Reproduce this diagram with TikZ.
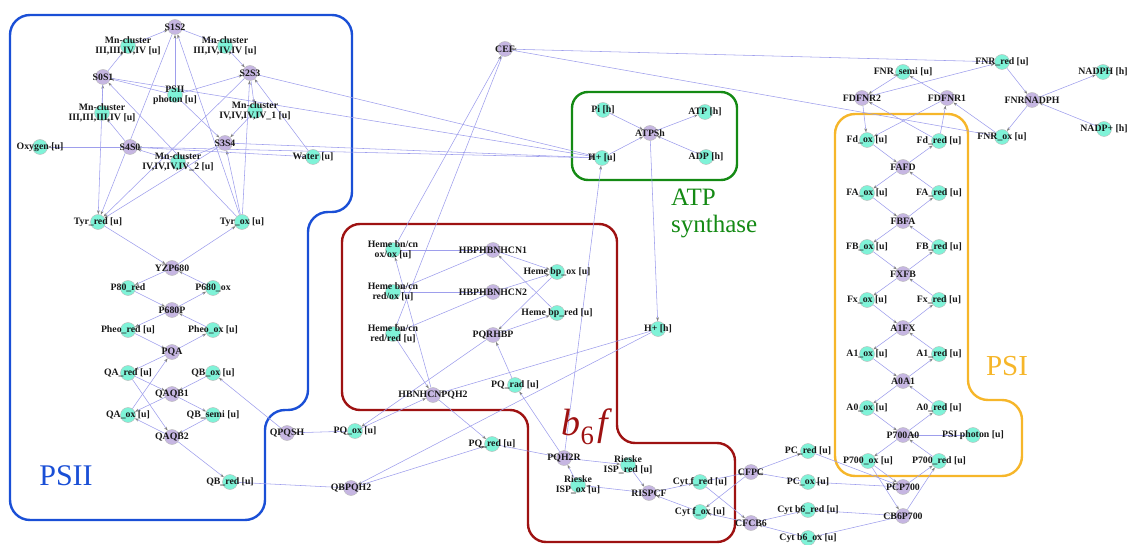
\documentclass[tikz,border=0pt]{standalone}
\usepackage{fontspec}
\setmainfont{Liberation Serif}
\usetikzlibrary{arrows.meta}
\pgfdeclarelayer{bg}
\pgfsetlayers{bg,main}
\definecolor{placecol}{HTML}{7FF3D8}
\definecolor{transcol}{HTML}{C6B6E2}
\definecolor{arccol}{HTML}{9E9EEC}
\definecolor{psiiblue}{HTML}{1A4FD6}
\definecolor{bsixred}{HTML}{9E1212}
\definecolor{atpgreen}{HTML}{148A14}
\definecolor{psiorange}{HTML}{F6B62A}
\newcommand\mkP[3]{\node[place] (#1) at (#2) {}; \node[lbl] (#1t) at (#1) {#3};}
\newcommand\mkT[3]{\node[trans] (#1) at (#2) {}; \node[lbl] (#1t) at (#1) {#3};}
\begin{document}
\begin{tikzpicture}[x=1pt,y=-1pt,
  place/.style={circle,fill=placecol,draw=gray!55,line width=0.4pt,minimum size=15pt,inner sep=0pt},
  trans/.style={circle,fill=transcol,draw=gray!55,line width=0.4pt,minimum size=15pt,inner sep=0pt},
  lbl/.style={font=\bfseries\fontsize{9.8}{10}\selectfont,text=black!90,align=center,inner sep=0pt},
  arc/.style={draw=arccol,line width=0.55pt,-{Stealth[length=4pt,width=2.8pt,color=gray]}},
  box/.style={line width=2.4pt,rounded corners=20pt},
  big/.style={inner sep=0pt,align=left}
]
\useasboundingbox (0,0) rectangle (1129,545);

% ---------- PSII ----------
\mkT{sb}{175,27}{S1S2}
\mkP{MnA}{128,46}{Mn-cluster\\III,III,IV,IV [u]}
\mkP{MnB}{225,46}{Mn-cluster\\III,IV,IV,IV [u]}
\mkT{sa}{103,77}{S0S1}
\mkT{sc}{250,73}{S2S3}
\mkP{ph2}{175,95}{PSII\\photon [u]}
\mkP{MnZ}{102,113}{Mn-cluster\\III,III,III,IV [u]}
\mkP{MnC}{255,111}{Mn-cluster\\IV,IV,IV,IV\_1 [u]}
\mkP{oxy}{40,147}{Oxygen [u]}
\mkT{se}{130,147}{S4S0}
\mkT{sd}{225,143}{S3S4}
\mkP{MnD}{178,162}{Mn-cluster\\IV,IV,IV,IV\_2 [u]}
\mkP{water}{313,157}{Water [u]}
\mkP{tyrr}{98,222}{Tyr\_red [u]}
\mkP{tyro}{242,222}{Tyr\_ox [u]}
\mkT{yz}{172,268}{YZP680}
\mkP{p680r}{128,288}{P80\_red}
\mkP{p680o}{213,288}{P680\_ox}
\mkT{p680p}{172,310}{P680P}
\mkP{pheor}{128,330}{Pheo\_red [u]}
\mkP{pheoo}{213,330}{Pheo\_ox [u]}
\mkT{pqa}{172,352}{PQA}
\mkP{qar}{128,373}{QA\_red [u]}
\mkP{qbo}{213,373}{QB\_ox [u]}
\mkT{qaqba}{172,394}{QAQB1}
\mkP{qao}{128,415}{QA\_ox [u]}
\mkP{qbs}{213,415}{QB\_semi [u]}
\mkT{qaqbb}{172,437}{QAQB2}
\mkP{qbr}{230,482}{QB\_red [u]}
\mkT{qpqsh}{287,433}{QPQSH}
\mkP{pqo}{355,431}{PQ\_ox [u]}
\mkT{qbpqh}{351,488}{QBPQH2}

% ---------- b6f ----------
\mkP{hoo}{393,250}{Heme bn/cn\\ox/ox [u]}
\mkT{hba}{493,250}{HBPHBNHCN1}
\mkP{bpo}{557,272}{Heme bp\_ox [u]}
\mkP{hro}{393,292}{Heme bn/cn\\red/ox [u]}
\mkT{hbb}{493,292}{HBPHBNHCN2}
\mkP{bpr}{557,313}{Heme bp\_red [u]}
\mkP{hrr}{393,334}{Heme bn/cn\\red/red [u]}
\mkT{pqrhbp}{493,335}{PQRHBP}
\mkP{pqrad}{515,385}{PQ\_rad [u]}
\mkT{hbnpq}{433,395}{HBNHCNPQH2}
\mkP{pqr}{492,444}{PQ\_red [u]}
\mkT{pqhr}{564,458}{PQH2R}
\mkP{rir}{628,465}{Rieske\\ISP\_red [u]}
\mkP{rio}{578,485}{Rieske\\ISP\_ox [u]}
\mkT{rispcf}{649,493}{RISPCF}
\mkP{cfr}{700,482}{Cyt f\_red [u]}
\mkP{cfo}{700,512}{Cyt f\_ox [u]}
\mkT{cfpc}{751,472}{CFPC}
\mkT{cfcb}{751,523}{CFCB6}

% ---------- ATP / CEF ----------
\mkT{cef}{505,49}{CEF}
\mkP{pi}{603,110}{Pi [h]}
\mkP{atp}{705,112}{ATP [h]}
\mkT{atps}{650,133}{ATPSh}
\mkP{hu}{602,158}{H+ [u]}
\mkP{adp}{706,157}{ADP [h]}
\mkP{hh}{658,329}{H+ [h]}

% ---------- PSI ----------
\mkP{fnrr}{1002,62}{FNR\_red [u]}
\mkP{fnrs}{903,72}{FNR\_semi [u]}
\mkP{nadph}{1103,72}{NADPH [h]}
\mkT{fdfnrb}{862,98}{FDFNR2}
\mkT{fdfnra}{947,98}{FDFNR1}
\mkT{fnrn}{1032,100}{FNRNADPH}
\mkP{nadp}{1104,129}{NADP+ [h]}
\mkP{fnro}{1002,137}{FNR\_ox [u]}
\mkP{fdo}{867,140}{Fd\_ox [u]}
\mkP{fdr}{939,141}{Fd\_red [u]}
\mkT{fafd}{903,167}{FAFD}
\mkP{fao}{867,193}{FA\_ox [u]}
\mkP{far}{939,193}{FA\_red [u]}
\mkT{fbfa}{903,221}{FBFA}
\mkP{fbo}{867,247}{FB\_ox [u]}
\mkP{fbr}{939,247}{FB\_red [u]}
\mkT{fxfb}{903,274}{FXFB}
\mkP{fxo}{867,300}{Fx\_ox [u]}
\mkP{fxr}{939,300}{Fx\_red [u]}
\mkT{afx}{903,328}{A1FX}
\mkP{a1o}{867,354}{A1\_ox [u]}
\mkP{a1r}{939,354}{A1\_red [u]}
\mkT{aoa}{903,381}{A0A1}
\mkP{a0o}{867,408}{A0\_ox [u]}
\mkP{a0r}{939,408}{A0\_red [u]}
\mkT{p700a0}{903,435}{P700A0}
\mkP{psiph}{973,435}{PSI photon [u]}
\mkP{p700o}{868,461}{P700\_ox [u]}
\mkP{p700r}{939,461}{P700\_red [u]}
\mkP{pcr}{808,451}{PC\_red [u]}
\mkP{pco}{808,482}{PC\_ox [u]}
\mkT{pcp}{903,487}{PCP700}
\mkP{cb6r}{808,510}{Cyt b6\_red [u]}
\mkT{cb6}{903,516}{CB6P700}
\mkP{cb6o}{808,538}{Cyt b6\_ox [u]}

% ---------- big labels ----------
\node[big,text=psiiblue,font=\fontsize{30}{30}\selectfont] (lpsii) at (66,476) {PSII};
\node[big,text=bsixred,font=\fontsize{38}{38}\selectfont] (lbsix) at (587,427) {\textit{b}\textsubscript{6}\kern3pt\textit{f}};
\node[big,text=atpgreen,font=\fontsize{25}{27}\selectfont,anchor=north west] (latp) at (671,189) {ATP\\synthase};
\node[big,text=psiorange,font=\fontsize{29}{29}\selectfont] (lpsi) at (1007,366) {PSI};

\begin{pgfonlayer}{bg}
% boxes
\draw[box,draw=psiiblue] (10,15) -- (352,15) -- (352,212) -- (308,212) -- (308,410) -- (265,410) -- (265,520) -- (10,520) -- cycle;
\draw[box,draw=bsixred,rounded corners=18pt] (342,224) -- (617,224) -- (617,443) -- (735,443) -- (735,542) -- (528,542) -- (528,410) -- (342,410) -- cycle;
\draw[box,draw=atpgreen,rounded corners=16pt] (572,92) rectangle (737,180);
\draw[box,draw=psiorange] (835,114) -- (968,114) -- (968,400) -- (1022,400) -- (1022,476) -- (835,476) -- cycle;
% arcs
\foreach \a/\b in {sa/MnA, MnA/sb, sb/MnB, MnB/sc, sc/MnC, MnC/sd, sd/MnD, MnD/se, se/MnZ, MnZ/sa,
  ph2/sa, ph2/sb, ph2/sc, ph2/sd,
  tyro/sa, tyro/sb, tyro/sc, tyro/sd,
  sa/tyrr, sb/tyrr, sc/tyrr, sd/tyrr,
  water/sc, water/se, se/oxy,
  sa/hu, sc/hu, sd/hu, se/hu,
  tyrr/yz, yz/tyro, p680o/yz, yz/p680r,
  p680r/p680p, p680p/p680o, pheoo/p680p, p680p/pheor,
  pheor/pqa, pqa/pheoo, qao/pqa, pqa/qar,
  qar/qaqba, qaqba/qao, qbo/qaqba, qaqba/qbs,
  qar/qaqbb, qaqbb/qao, qbs/qaqbb, qaqbb/qbr,
  qbr/qbpqh, hh/qbpqh, qbpqh/pqr,
  pqo/qpqsh, qpqsh/qbo,
  hoo/hba, bpr/hba, hba/hro, hba/bpo,
  hro/hbb, hbb/hrr, hbb/bpo,
  pqrad/pqrhbp, bpo/pqrhbp, pqrhbp/bpr, pqrhbp/pqo,
  hrr/hbnpq, pqo/hbnpq, hh/hbnpq, hbnpq/hoo, hbnpq/pqr,
  fnrr/cef, hoo/cef, cef/fnro, cef/hrr,
  pqr/pqhr, rio/pqhr, pqhr/rir, pqhr/pqrad, pqhr/hu,
  rir/rispcf, cfo/rispcf, rispcf/rio, rispcf/cfr,
  cfr/cfpc, pco/cfpc, cfpc/cfo, cfpc/pcr,
  cfr/cfcb, cb6o/cfcb, cfcb/cfo, cfcb/cb6r,
  pi/atps, adp/atps, hu/atps, atps/atp, atps/hh,
  pcr/pcp, p700o/pcp, pcp/pco, pcp/p700r,
  cb6r/cb6, p700o/cb6, cb6/cb6o, cb6/p700r,
  p700r/p700a0, a0o/p700a0, psiph/p700a0, p700a0/p700o, p700a0/a0r,
  a0r/aoa, a1o/aoa, aoa/a0o, aoa/a1r,
  a1r/afx, fxo/afx, afx/a1o, afx/fxr,
  fxr/fxfb, fbo/fxfb, fxfb/fxo, fxfb/fbr,
  fbr/fbfa, fao/fbfa, fbfa/fbo, fbfa/far,
  far/fafd, fdo/fafd, fafd/fao, fafd/fdr,
  fdr/fdfnra, fnro/fdfnra, fdfnra/fdo, fdfnra/fnrs,
  fdr/fdfnrb, fnrs/fdfnrb, fdfnrb/fdo, fdfnrb/fnrr,
  fnrr/fnrn, nadp/fnrn, fnrn/fnro, fnrn/nadph}
  \draw[arc] (\a) -- (\b);
\end{pgfonlayer}
\end{tikzpicture}
\end{document}
